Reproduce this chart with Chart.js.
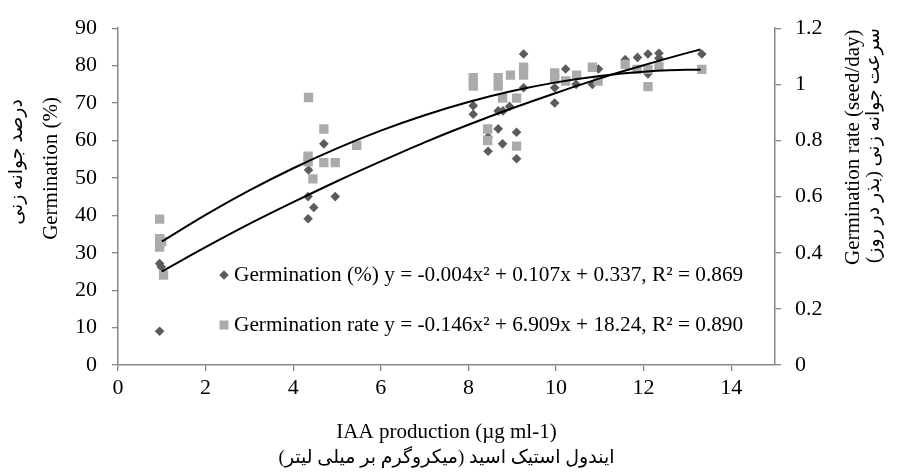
<!DOCTYPE html>
<html>
<head>
<meta charset="utf-8">
<script src="https://cdn.jsdelivr.net/npm/chart.js@4.4.1/dist/chart.umd.min.js"></script>
<style>
  body { margin: 0; background: #fff; }
</style>
</head>
<body>
<canvas id="chart" width="897" height="473"></canvas>
<script>
// germination percent points (left axis)
const pctX = [0.95, 0.99, 0.95, 4.35, 4.34, 4.47, 4.34, 4.70, 4.96, 8.11, 8.11, 8.45, 8.45, 8.68, 8.68, 8.79, 8.78, 8.94, 9.10, 9.10, 9.26, 9.26, 9.97, 9.97, 10.22, 10.46, 10.83, 10.97, 11.58, 11.86, 12.10, 12.10, 12.35, 12.35, 13.33];
const pctY = [27.1, 26.2, 9.0, 52.1, 45.0, 42.1, 39.1, 59.1, 45.0, 69.3, 67.0, 60.9, 57.1, 67.9, 63.1, 67.9, 59.1, 69.1, 62.2, 55.1, 83.1, 74.1, 74.1, 70.0, 79.1, 75.0, 75.0, 79.1, 81.6, 82.2, 83.1, 77.8, 83.3, 82.0, 83.1];

// germination rate points (right axis)
const rateX = [0.95, 0.95, 1.00, 0.95, 1.04, 4.35, 4.70, 5.45, 4.34, 4.34, 4.70, 4.96, 4.45, 8.11, 8.11, 8.44, 8.44, 8.68, 8.68, 8.78, 8.96, 9.10, 9.10, 9.26, 9.26, 9.97, 9.97, 10.22, 10.47, 10.83, 10.96, 11.58, 11.85, 12.10, 12.10, 12.35, 13.33];
const rateY = [0.52, 0.45, 0.44, 0.42, 0.32, 0.953, 0.841, 0.783, 0.744, 0.724, 0.721, 0.721, 0.663, 1.024, 0.994, 0.841, 0.80, 1.024, 0.994, 0.951, 1.033, 0.951, 0.780, 1.061, 1.033, 1.041, 1.018, 1.012, 1.033, 1.061, 1.012, 1.071, 1.053, 1.053, 0.992, 1.065, 1.053];

// trend lines
const trendX = [1, 2, 3, 4, 5, 6, 7, 8, 9, 10, 11, 12, 13, 13.3];
const trendPct = [25.0, 31.5, 37.7, 43.5, 49.1, 54.4, 59.5, 64.2, 68.6, 72.7, 76.6, 80.1, 83.4, 84.3];
const trendRate = [0.440, 0.535, 0.622, 0.701, 0.772, 0.835, 0.890, 0.937, 0.976, 1.007, 1.030, 1.045, 1.052, 1.052];

// axis ticks
const xTicks = [0, 2, 4, 6, 8, 10, 12, 14];
const pctTicks = [0, 10, 20, 30, 40, 50, 60, 70, 80, 90];
const rateTicks = [0, 0.2, 0.4, 0.6, 0.8, 1, 1.2];

const legendLabels = [
    'Germination (%) y = -0.004x² + 0.107x + 0.337, R² = 0.869',
    'Germination rate y = -0.146x² + 6.909x + 18.24, R² = 0.890'
];

const serif = "'Liberation Serif', 'Times New Roman', serif";
const persian = "'Liberation Serif', 'DejaVu Sans', serif";
const axisColor = '#878787';
const darkGray = '#5b5b5b';
const lightGray = '#ababab';

function pts(xs, ys) {
    return xs.map((x, i) => ({ x: x, y: ys[i] }));
}

// titles and the in-plot legend
const extras = {
    id: 'extras',
    afterDraw(chart) {
        const ctx = chart.ctx;
        ctx.save();
        ctx.fillStyle = '#000';
        ctx.textBaseline = 'middle';

        // left title
        ctx.save();
        ctx.translate(51, 97);
        ctx.rotate(-Math.PI / 2);
        ctx.font = '21px ' + serif;
        ctx.textAlign = 'right';
        ctx.fillText('Germination (%)', 0, 0);
        ctx.restore();

        ctx.save();
        ctx.translate(17, 99);
        ctx.rotate(-Math.PI / 2);
        ctx.direction = 'rtl';
        ctx.font = '19px ' + persian;
        ctx.textAlign = 'right';
        ctx.fillText('درصد جوانه زنی', 0, 0);
        ctx.restore();

        // right title
        ctx.save();
        ctx.translate(853, 265);
        ctx.rotate(-Math.PI / 2);
        ctx.font = '21px ' + serif;
        ctx.textAlign = 'left';
        ctx.fillText('Germination rate (seed/day)', 0, 0);
        ctx.restore();

        ctx.save();
        ctx.translate(874, 263);
        ctx.rotate(-Math.PI / 2);
        ctx.direction = 'rtl';
        ctx.font = '19px ' + persian;
        ctx.textAlign = 'left';
        ctx.fillText('سرعت جوانه زنی (بذر در روز)', 0, 0);
        ctx.restore();

        // x title
        const cx = (chart.chartArea.left + chart.chartArea.right) / 2;
        ctx.textAlign = 'center';
        ctx.font = '21px ' + serif;
        ctx.fillText('IAA production (µg ml-1)', cx, 432);
        ctx.direction = 'rtl';
        ctx.font = '19px ' + persian;
        ctx.fillText('ایندول استیک اسید (میکروگرم بر میلی لیتر)', cx, 458);
        ctx.direction = 'ltr';

        // legend
        ctx.textAlign = 'left';
        ctx.font = '21.3px ' + serif;
        ctx.fillStyle = darkGray;
        ctx.beginPath();
        ctx.moveTo(224, 270.3);
        ctx.lineTo(228.7, 275);
        ctx.lineTo(224, 279.7);
        ctx.lineTo(219.3, 275);
        ctx.closePath();
        ctx.fill();
        ctx.fillStyle = lightGray;
        ctx.fillRect(219.5, 320.5, 9, 9);
        ctx.fillStyle = '#000';
        ctx.fillText(legendLabels[0], 234, 275);
        ctx.fillText(legendLabels[1], 234, 325);
        ctx.restore();
    }
};

const ctx = document.getElementById('chart').getContext('2d');
new Chart(ctx, {
    type: 'scatter',
    data: {
        datasets: [
            {
                type: 'line',
                data: pts(trendX, trendPct),
                yAxisID: 'y',
                borderColor: '#000',
                borderWidth: 2,
                pointRadius: 0,
                cubicInterpolationMode: 'monotone',
                fill: false,
                order: 0
            },
            {
                type: 'line',
                data: pts(trendX, trendRate),
                yAxisID: 'y1',
                borderColor: '#000',
                borderWidth: 2,
                pointRadius: 0,
                cubicInterpolationMode: 'monotone',
                fill: false,
                order: 0
            },
            {
                data: pts(rateX, rateY),
                yAxisID: 'y1',
                pointStyle: 'rect',
                pointRadius: 6.6,
                backgroundColor: lightGray,
                borderWidth: 0,
                order: 1
            },
            {
                data: pts(pctX, pctY),
                yAxisID: 'y',
                pointStyle: 'rectRot',
                pointRadius: 4.8,
                backgroundColor: darkGray,
                borderWidth: 0,
                order: 2
            }
        ]
    },
    options: {
        responsive: false,
        animation: false,
        layout: { padding: { top: 25, left: 0, right: 0, bottom: 0 } },
        plugins: {
            legend: { display: false },
            tooltip: { enabled: false }
        },
        scales: {
            x: {
                type: 'linear',
                min: 0,
                max: 15,
                afterBuildTicks: s => { s.ticks = xTicks.map(v => ({ value: v })); },
                afterFit: s => { s.height = 108; },
                grid: { drawOnChartArea: false, tickLength: 6, color: axisColor, lineWidth: 1.3 },
                border: { color: axisColor, width: 1.5 },
                ticks: { padding: 4, color: '#000', font: { family: serif, size: 22 } }
            },
            y: {
                position: 'left',
                min: 0,
                max: 90,
                afterBuildTicks: s => { s.ticks = pctTicks.map(v => ({ value: v })); },
                afterFit: s => { s.width = 118; },
                grid: { drawOnChartArea: false, tickLength: 6, color: axisColor, lineWidth: 1.3 },
                border: { color: axisColor, width: 1.5 },
                ticks: { padding: 15, color: '#000', font: { family: serif, size: 22 } }
            },
            y1: {
                position: 'right',
                min: 0,
                max: 1.2,
                afterBuildTicks: s => { s.ticks = rateTicks.map(v => ({ value: v })); },
                afterFit: s => { s.width = 122; },
                grid: { drawOnChartArea: false, tickLength: 6, color: axisColor, lineWidth: 1.3 },
                border: { color: axisColor, width: 1.5 },
                ticks: {
                    padding: 14,
                    color: '#000',
                    font: { family: serif, size: 22 },
                    callback: v => String(Number(v.toFixed(1)))
                }
            }
        }
    },
    plugins: [extras]
});
</script>
</body>
</html>
